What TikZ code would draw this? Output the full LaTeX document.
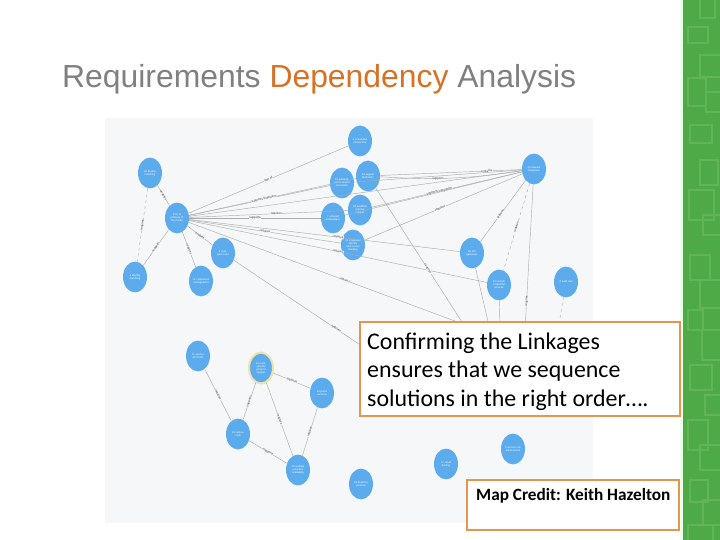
\documentclass[tikz,border=0pt]{standalone}
\usepackage{fontspec}
\setmainfont{Liberation Sans}
\newfontfamily\calib{Carlito}
\usetikzlibrary{shapes.geometric}
\definecolor{nodeblue}{RGB}{92,171,237}
\definecolor{edgegrey}{RGB}{172,172,172}
\definecolor{bgpanel}{RGB}{246,247,249}
\definecolor{titlegrey}{RGB}{128,128,128}
\definecolor{titleorange}{RGB}{214,114,40}
\definecolor{boxorange}{RGB}{226,150,80}
\definecolor{barGreen}{RGB}{77,170,70}
\definecolor{barLight}{RGB}{98,180,88}
\definecolor{halo}{RGB}{238,226,170}
\tikzset{
  gnode/.style={ellipse, fill=nodeblue, minimum width=24, minimum height=31, inner sep=0,
    text=white, font=\fontsize{2.6}{3}\selectfont, align=center, text width=17},
  lnk/.style={draw=edgegrey, line width=0.45bp},
  lbl/.style={font=\fontsize{3}{3}\selectfont, sloped, fill=bgpanel, inner sep=0.3, text=black!80},
  msgbox/.style={draw=boxorange, line width=2.5bp, fill=white},
  msgtext/.style={anchor=base west, inner sep=0, font=\calib\fontsize{24}{28}\selectfont},
}
\begin{document}
\begin{tikzpicture}[x=1bp, y=-1bp]
\useasboundingbox (0,0) rectangle (720,540);
\fill[white] (0,0) rectangle (720,540);
% graph screenshot panel
\fill[bgpanel] (105,118) rectangle (593,523);
% green side bar
\fill[green!8!white] (680,0) rectangle (683,540);
\fill[barGreen] (683,0) rectangle (720,540);
\begin{scope}
\clip (683,0) rectangle (720,540);
\foreach \x/\y/\w/\h in {700/-5/15/23, 688/27/20/16, 700/55/25/22, 688/78/18/28, 706/92/20/20,
  690/125/22/18, 700/160/18/25, 689/190/25/30, 703/215/20/20, 690/255/20/25, 700/280/22/28,
  688/310/15/20, 702/330/20/30, 690/365/22/25, 705/395/18/20, 688/420/20/30, 700/445/25/25,
  690/480/18/22, 703/500/20/25, 688/525/25/20}
  \draw[barLight, line width=1.8bp] (\x,\y) rectangle ++(\w,\h);
\end{scope}
% title
\node[anchor=base west, font=\fontsize{32}{38}\selectfont, text=titlegrey, inner sep=0] (title) at (62,88)
  {Requirements \textcolor{titleorange}{Dependency} Analysis};
% hidden ends (behind the text box)
\coordinate (h1) at (420,385);
\coordinate (h2) at (560,360);
\coordinate (h3) at (480,350);
\coordinate (h4) at (525,330);
\coordinate (h5) at (490,330);
\coordinate (h6) at (500,330);
\coordinate (h7) at (558,330);
% graph nodes
\node[gnode] (n1) at (150,173) {23 flexible matching};
\node[gnode] (n2) at (177,218) {23.2 \% pathway of the model};
\node[gnode] (n3) at (135,277) {4 identity matching};
\node[gnode] (n4) at (201,281) {12 component management};
\node[gnode] (n5) at (223,253) {9 compute trust};
\node[gnode] (n6) at (360,141) {4 scheduled connectors};
\node[gnode] (n7) at (368,176) {13 support federation};
\node[gnode] (n8) at (342,183) {16 authenticated service invocation};
\node[gnode] (n9) at (360,210) {18 workflow scanner support};
\node[gnode] (n10) at (333,218) {7 onboard marketplace};
\node[gnode] (n11) at (353,245) {11 integrated identity and access tracking};
\node[gnode] (n12) at (534,169) {20 network integration};
\node[gnode] (n13) at (472,253) {19 API gateways};
\node[gnode] (n14) at (499,285) {24 custom credential services};
\node[gnode] (n15) at (566,282) {8 audit trail};
\node[gnode] (n16) at (198,356) {11 service API DOC};
\node[gnode, draw=halo, line width=2bp] (n17) at (261,368) {14 multi-security protocol support};
\node[gnode] (n18) at (322,393) {21 portal services};
\node[gnode] (n19) at (238,434) {10 reduce costs};
\node[gnode] (n20) at (298,470) {22 multiple providers availability};
\node[gnode] (n21) at (361,484) {23 directory services};
\node[gnode] (n22) at (513,449) {5 access rule enforcement};
\node[gnode] (n23) at (446,464) {17 cloud hosting};
% connectors
\draw[lnk] (n1) -- node[lbl] {enables} (n2);
\draw[lnk, dashed] (n1) -- node[lbl] {requires} (n3);
\draw[lnk] (n3) -- node[lbl] {supports} (n2);
\draw[lnk] (n2) -- node[lbl] {requires} (n4);
\draw[lnk] (n2) -- node[lbl] {enables} (n5);
\draw[lnk] (n2) -- node[lbl, pos=0.5] {part of} (n6);
\draw[lnk] (n2) -- (n8);
\draw[lnk] (n2) -- node[lbl, pos=0.45] {supports federation} (n7);
\draw[lnk] (n2) -- node[lbl, pos=0.5] {supports} (n10);
\draw[lnk] (n2) -- node[lbl, pos=0.55] {requires} (n9);
\draw[lnk] (n2) -- node[lbl, pos=0.5] {requires} (n11);
\draw[lnk] (n2) -- (n12);
\draw[lnk] (n2) -- node[lbl, pos=0.55] {requires} (n13);
\draw[lnk] (n2) -- node[lbl, pos=0.5] {requires} (n14);
\draw[lnk] (n2) -- node[lbl, pos=0.42] {requires} (h2);
\draw[lnk] (n5) -- node[lbl, pos=0.55] {requires} (h1);
\draw[lnk] (n7) -- node[lbl, pos=0.5] {requires} (h3);
\draw[lnk] (n12) -- node[lbl, pos=0.25] {contains} (n7);
\draw[lnk] (n12) to[bend left=6] node[lbl, pos=0.6] {supports} (n7);
\draw[lnk] (n12) -- (n8);
\draw[lnk] (n12) -- node[lbl, pos=0.55] {supports integration} (n9);
\draw[lnk] (n12) -- node[lbl, pos=0.52] {requires} (n11);
\draw[lnk] (n12) -- (n10);
\draw[lnk] (n12) -- node[lbl, pos=0.55] {requires} (n13);
\draw[lnk, dashed] (n12) -- node[lbl, pos=0.5] {requires} (n14);
\draw[lnk] (n12) -- node[lbl, pos=0.8] {requires} (h4);
\draw[lnk] (n13) -- (h5);
\draw[lnk] (n14) -- (h6);
\draw[lnk, dashed] (n15) -- (h7);
\draw[lnk] (n16) -- node[lbl] {requires} (n19);
\draw[lnk] (n19) -- node[lbl] {supports} (n17);
\draw[lnk] (n17) -- node[lbl] {requires} (n20);
\draw[lnk] (n18) -- node[lbl] {supports} (n17);
\draw[lnk] (n18) -- node[lbl] {requires} (n20);
\draw[lnk] (n19) -- node[lbl] {supports} (n20);
% text boxes
\draw[msgbox] (360,322) rectangle (680,416);
\node[msgtext] (m1) at (367,349) {Confirming the Linkages};
\node[msgtext] (m2) at (367,377.5) {ensures that we sequence};
\node[msgtext] (m3) at (367,406) {solutions in the right order….};
\draw[msgbox] (467,480) rectangle (679,530);
\node[anchor=base west, inner sep=0, font=\calib\bfseries\fontsize{17.3}{20}\selectfont] (credit) at (476,500) {Map Credit: Keith Hazelton};
\end{tikzpicture}
\end{document}
